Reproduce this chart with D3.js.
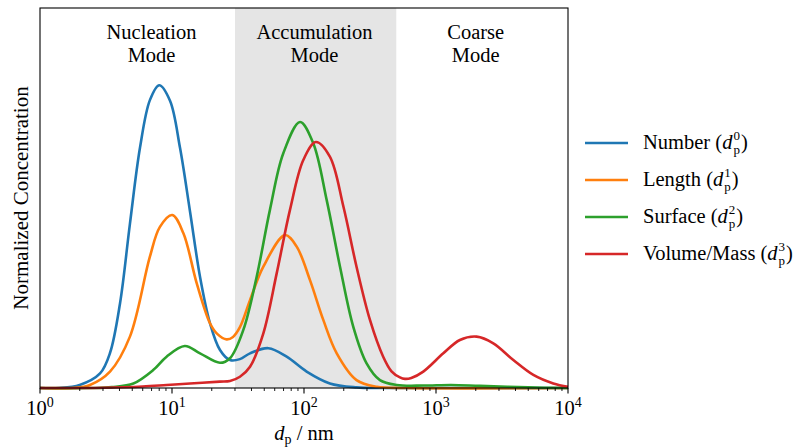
<!DOCTYPE html>
<html>
<head>
<meta charset="utf-8">
<script src="https://cdn.jsdelivr.net/npm/d3@7"></script>
<style>
  body { margin: 0; background: #fff; }
  text { font-family: "Liberation Serif", "Times New Roman", serif; fill: #000; }
</style>
</head>
<body>
<div id="chart"></div>
<script>
// Chart size
const width = 810;
const height = 447;
const margin = { top: 8, right: 242, bottom: 59, left: 40 };
const innerW = width - margin.left - margin.right;
const innerH = height - margin.top - margin.bottom;

// Data (diameter in nm, normalized concentration)
const numberD  = [1, 1.4, 2.0, 2.85, 3.39, 4.04, 4.8, 5.72, 6.8, 8.0, 9.66, 11.5, 13.7, 16.3, 19.4, 23.1, 27.5, 32.7, 39, 53.7, 73.9, 104.7, 157, 250, 400, 10000];
const numberV  = [0, 0, 0.01, 0.048, 0.115, 0.279, 0.54, 0.79, 0.947, 0.996, 0.945, 0.79, 0.58, 0.366, 0.213, 0.125, 0.092, 0.095, 0.114, 0.131, 0.103, 0.054, 0.015, 0.002, 0, 0];

const lengthD  = [1, 1.8, 2.39, 3.39, 4.8, 6.8, 8.1, 10.05, 12.2, 15.4, 19.4, 22, 25.9, 29, 32.7, 39, 49.2, 71.8, 88, 111, 140, 177, 250, 356, 600, 10000];
const lengthV  = [0, 0, 0.01, 0.054, 0.169, 0.432, 0.53, 0.569, 0.509, 0.344, 0.213, 0.178, 0.16, 0.168, 0.2, 0.289, 0.399, 0.503, 0.465, 0.355, 0.224, 0.114, 0.026, 0.004, 0, 0];

const surfaceD = [1, 2.5, 3.5, 5.1, 7.2, 9.1, 12.5, 16.3, 23.1, 27.5, 34.7, 43.8, 55.2, 69.7, 93.3, 117.5, 148.6, 187.4, 236, 298, 376, 504, 800, 1300, 2150, 5000, 10000];
const surfaceV = [0, 0, 0.003, 0.015, 0.059, 0.103, 0.138, 0.114, 0.083, 0.098, 0.191, 0.366, 0.586, 0.772, 0.875, 0.805, 0.618, 0.399, 0.202, 0.081, 0.026, 0.01, 0.008, 0.01, 0.007, 0.002, 0];

const volumeD  = [1, 3, 6, 9.1, 13.7, 23, 27.5, 32.7, 39, 49.2, 62.1, 78.3, 98.8, 123, 157, 199, 250, 316, 398, 460, 533, 582, 650, 801, 1136, 1517, 2033, 2718, 3854, 5464, 7740, 10000];
const volumeV  = [0, 0.001, 0.005, 0.01, 0.015, 0.021, 0.023, 0.037, 0.07, 0.18, 0.377, 0.586, 0.75, 0.809, 0.761, 0.596, 0.399, 0.224, 0.103, 0.055, 0.035, 0.03, 0.033, 0.054, 0.114, 0.158, 0.169, 0.147, 0.092, 0.043, 0.015, 0.004];

const seriesNames = ["Number", "Length", "Surface", "Volume/Mass"];
const seriesPowers = ["0", "1", "2", "3"];
const colors = ["#1f77b4", "#ff7f0e", "#2ca02c", "#d62728"];

// Mode bands and labels
const accumBand = [30, 500];
const modeNames = [["Nucleation", "Mode"], ["Accumulation", "Mode"], ["Coarse", "Mode"]];
const modeCenters = [7, 120, 2000];

const tickValues = [1, 10, 100, 1000, 10000];
const tickExponents = ["0", "1", "2", "3", "4"];

const series = [
  d3.zip(numberD, numberV),
  d3.zip(lengthD, lengthV),
  d3.zip(surfaceD, surfaceV),
  d3.zip(volumeD, volumeV)
];

const svg = d3.select("#chart").append("svg")
    .attr("width", width)
    .attr("height", height);

const g = svg.append("g")
    .attr("transform", `translate(${margin.left},${margin.top})`);

const x = d3.scaleLog().domain([1, 10000]).range([0, innerW]);
const y = d3.scaleLinear().domain([0, 1.25]).range([innerH, 0]);

// Shaded accumulation band
g.append("rect")
    .attr("x", x(accumBand[0]))
    .attr("y", 0)
    .attr("width", x(accumBand[1]) - x(accumBand[0]))
    .attr("height", innerH)
    .attr("fill", "#e5e5e5");

// Curves
const line = d3.line()
    .x(d => x(d[0]))
    .y(d => Math.min(y(d[1]), innerH))
    .curve(d3.curveCatmullRom.alpha(0.5));

g.append("g")
    .selectAll("path")
    .data(series)
    .enter().append("path")
    .attr("d", line)
    .attr("fill", "none")
    .attr("stroke", (d, i) => colors[i])
    .attr("stroke-width", 2.6)
    .attr("stroke-linejoin", "round");

// Frame
g.append("rect")
    .attr("width", innerW)
    .attr("height", innerH)
    .attr("fill", "none")
    .attr("stroke", "#000")
    .attr("stroke-width", 1.1);

// Bottom axis: major and minor ticks
const minorTicks = [];
for (let e = 0; e < 4; e++) {
  for (let m = 2; m < 10; m++) minorTicks.push(m * Math.pow(10, e));
}
const axisG = g.append("g").attr("transform", `translate(0,${innerH})`);
axisG.selectAll(".minor")
    .data(minorTicks)
    .enter().append("line")
    .attr("x1", d => x(d)).attr("x2", d => x(d))
    .attr("y1", 0).attr("y2", 3)
    .attr("stroke", "#000").attr("stroke-width", 0.9);
axisG.selectAll(".major")
    .data(tickValues)
    .enter().append("line")
    .attr("x1", d => x(d)).attr("x2", d => x(d))
    .attr("y1", 0).attr("y2", 5.5)
    .attr("stroke", "#000").attr("stroke-width", 1.1);

const tickText = axisG.selectAll(".ticklabel")
    .data(tickValues)
    .enter().append("text")
    .attr("x", d => x(d))
    .attr("y", 27)
    .attr("text-anchor", "middle")
    .style("font-size", "20.5px");
tickText.append("tspan").text("10");
tickText.append("tspan")
    .attr("dy", -8)
    .style("font-size", "14px")
    .text((d, i) => tickExponents[i]);

// x axis label: d_p / nm
const xl = svg.append("text")
    .attr("x", margin.left + innerW / 2)
    .attr("y", 440)
    .attr("text-anchor", "middle")
    .style("font-size", "20.5px");
xl.append("tspan").style("font-style", "italic").text("d");
xl.append("tspan").attr("dy", 4).style("font-size", "14px").text("p");
xl.append("tspan").attr("dy", -4).text(" / nm");

// y axis label
svg.append("text")
    .attr("transform", `translate(28,${margin.top + innerH / 2}) rotate(-90)`)
    .attr("text-anchor", "middle")
    .style("font-size", "21px")
    .text("Normalized Concentration");

// Mode labels
modeNames.forEach((lines, i) => {
  const t = g.append("text")
      .attr("x", x(modeCenters[i]))
      .attr("y", 31)
      .attr("text-anchor", "middle")
      .style("font-size", "20.5px");
  lines.forEach((s, j) => {
    t.append("tspan")
        .attr("x", x(modeCenters[i]))
        .attr("dy", j === 0 ? 0 : 22.5)
        .text(s);
  });
});

// Legend
const legend = svg.append("g").attr("transform", "translate(585,143)");
seriesNames.forEach((name, i) => {
  const row = legend.append("g").attr("transform", `translate(0,${i * 37})`);
  row.append("line")
      .attr("x1", 0).attr("x2", 43)
      .attr("y1", 0).attr("y2", 0)
      .attr("stroke", colors[i])
      .attr("stroke-width", 2.6);
  const t = row.append("text")
      .attr("x", 58)
      .attr("y", 6)
      .style("font-size", "20.5px");
  t.append("tspan").text(name + " (");
  t.append("tspan").style("font-style", "italic").text("d");
  // superscript power and subscript p stacked in the same text element
  const sup = t.append("tspan")
      .attr("dx", 1)
      .attr("dy", -9)
      .style("font-size", "13px")
      .text(seriesPowers[i]);
  const supW = sup.node().getComputedTextLength();
  t.append("tspan")
      .attr("dx", -supW)
      .attr("dy", 14)
      .style("font-size", "13px")
      .text("p");
  t.append("tspan")
      .attr("dx", 1)
      .attr("dy", -5)
      .text(")");
});
</script>
</body>
</html>
